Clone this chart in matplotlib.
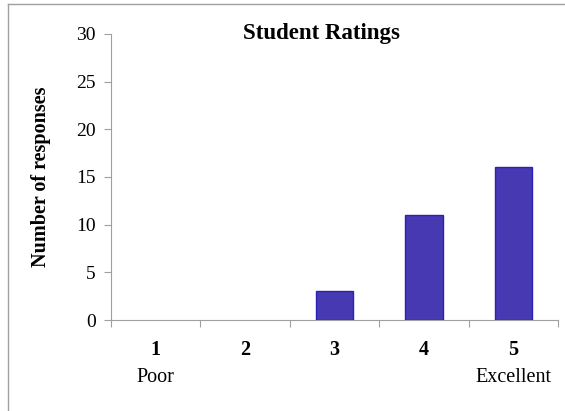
import matplotlib
matplotlib.use('Agg')
import matplotlib.pyplot as plt
from matplotlib.lines import Line2D

# ratings and counts
ratings = [1, 2, 3, 4, 5]
rating_labels = ['1', '2', '3', '4', '5']
responses = [0, 0, 3, 11, 16]
end_labels = {1: 'Poor', 5: 'Excellent'}
y_ticks = [0, 5, 10, 15, 20, 25, 30]

plt.rcParams['font.family'] = ['Liberation Serif', 'DejaVu Serif']

fig = plt.figure(figsize=(5.65, 4.11), dpi=100)
ax = fig.add_axes([0.1965, 0.2214, 0.7911, 0.6959])

# zero-height bars get no outline so nothing shows on the axis
edge_w = [1.0 if v > 0 else 0 for v in responses]
ax.bar(ratings, responses, width=0.42, color='#4639b2', edgecolor='#2a22b8', linewidth=edge_w, zorder=3)

ax.set_xlim(0.5, 5.5)
ax.set_ylim(0, 30)
ax.set_yticks(y_ticks)
ax.tick_params(axis='y', labelsize=14, length=5, color='#a0a0a0', pad=6)

# category ticks sit on the boundaries, labels in the middle
ax.set_xticks([r - 0.5 for r in ratings] + [ratings[-1] + 0.5])
ax.set_xticklabels([])
ax.tick_params(axis='x', length=5, color='#a0a0a0')
for r, lab in zip(ratings, rating_labels):
    ax.text(r, -3.1, lab, ha='center', va='center', fontsize=14.5, fontweight='bold')
for r, lab in end_labels.items():
    ax.text(r, -6.0, lab, ha='center', va='center', fontsize=14.5)

for s in ['top', 'right']:
    ax.spines[s].set_visible(False)
for s in ['left', 'bottom']:
    ax.spines[s].set_color('#a0a0a0')

ax.text(0.47, 1.0, 'Student Ratings', transform=ax.transAxes, ha='center', va='center',
        fontsize=16.5, fontweight='bold')
ax.set_ylabel('Number of responses', fontsize=14.5, fontweight='bold', labelpad=18)

# outer frame of the chart area
fig.add_artist(Line2D([8 / 565, 8 / 565], [0, 1 - 4 / 411], color='#a0a0a0', lw=1))
fig.add_artist(Line2D([8 / 565, 1], [1 - 4 / 411, 1 - 4 / 411], color='#a0a0a0', lw=1))

fig.savefig('out.png', dpi=100)
